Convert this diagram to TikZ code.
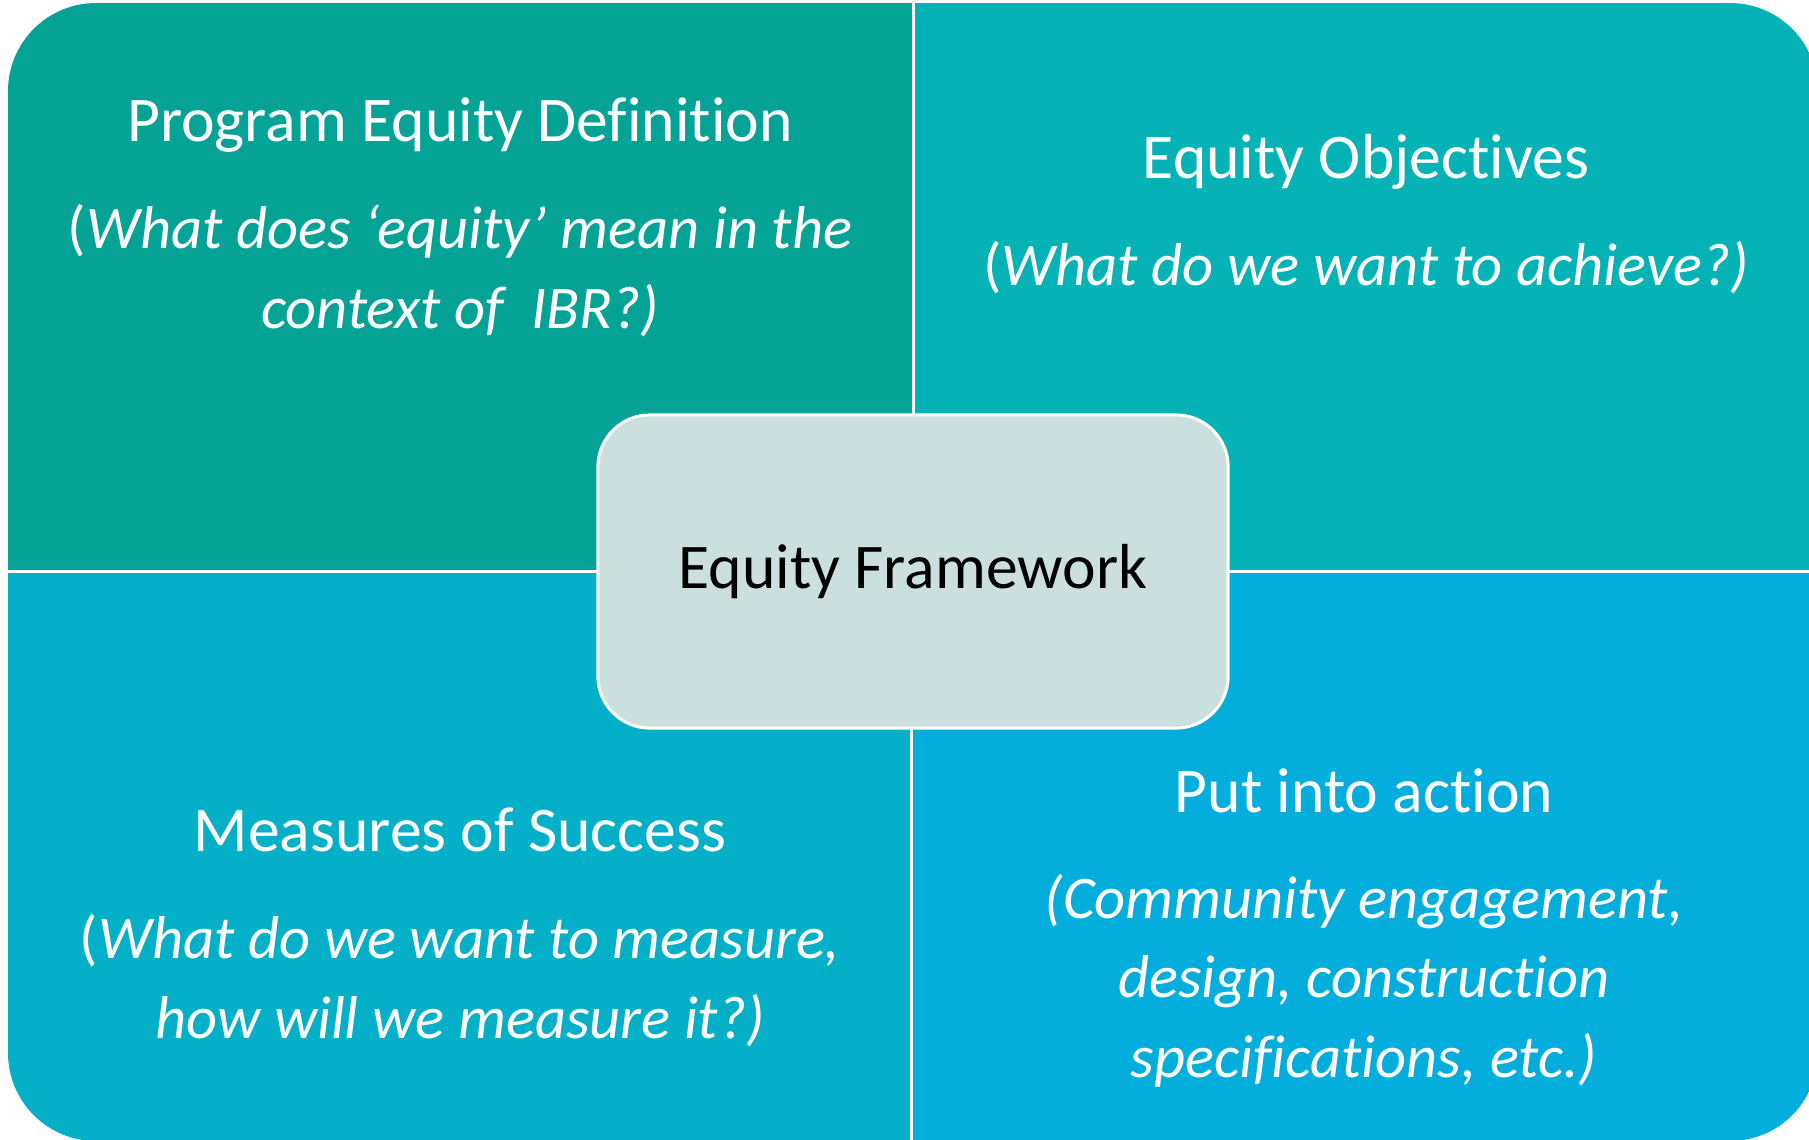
\documentclass[tikz,border=0pt]{standalone}
\usepackage{fontspec}
\setmainfont{Carlito}[Ligatures=NoCommon]
\usepackage{xcolor}
\usepackage{tikz}
\usetikzlibrary{positioning}
\definecolor{defteal}{HTML}{05A396}
\definecolor{objteal}{HTML}{05B3B6}
\definecolor{measteal}{HTML}{04B0C8}
\definecolor{actblue}{HTML}{03AEDC}
\definecolor{hubgray}{HTML}{CBE0DE}
\newcommand{\qsize}{\fontsize{18.1}{22.7}\selectfont}
\newcommand{\qitsize}{\fontsize{17.2}{22.5}\selectfont\itshape}
\tikzset{
    title/.style={font=\qsize, text=white, anchor=base, inner sep=0pt},
    % multi-line nodes: base anchor sits on the last line
    question/.style={font=\qitsize, text=white, align=center, anchor=base, inner sep=0pt},
    hub/.style={rectangle, rounded corners=0.52cm, draw=white, line width=0.03cm, fill=hubgray, minimum width=6.3cm, minimum height=3.13cm, font=\qsize, text=black}
}

\begin{document}
\begin{tikzpicture}[x=0.01cm, y=-0.01cm]
    \useasboundingbox (0,0) rectangle (1809,1139);

    % --- QUADRANTS ---
    \begin{scope}
        \clip[rounded corners=0.88cm] (8,3) rectangle (1818,1141);
        \fill[defteal]  (0,0) rectangle (911.5,570);
        \fill[objteal]  (914.5,0) rectangle (1830,570);
        \fill[measteal] (0,573) rectangle (909.5,1150);
        \fill[actblue]  (912.5,573) rectangle (1830,1150);
    \end{scope}

    % Top left: definition
    \node[title] (DefTitle) at (460,141) {Program Equity Definition};
    \node[question] (DefText) at (460,328) {\textup{(}What does ‘equity’ mean in the\\context of~\ IBR?)};

    % Top right: objectives
    \node[title] (ObjTitle) at (1366,178) {Equity Objectives};
    \node[question] (ObjText) at (1366,285) {\textup{(}What do we want to achieve?)};

    % Bottom left: success
    \node[title] (MeasTitle) at (460,851) {Measures of Success};
    \node[question] (MeasText) at (460,1038) {\textup{(}What do we want to measure,\\how will we measure it?)};

    % Bottom right: action
    \node[title] (ActTitle) at (1364,812) {Put into action};
    \node[question] (ActText) at (1364,1077) {(Community engagement,\\design, construction\\specifications, etc.)};

    % --- CENTRE ---
    \node[hub] (Framework) at (913,571.5) {Equity Framework};

\end{tikzpicture}
\end{document}
